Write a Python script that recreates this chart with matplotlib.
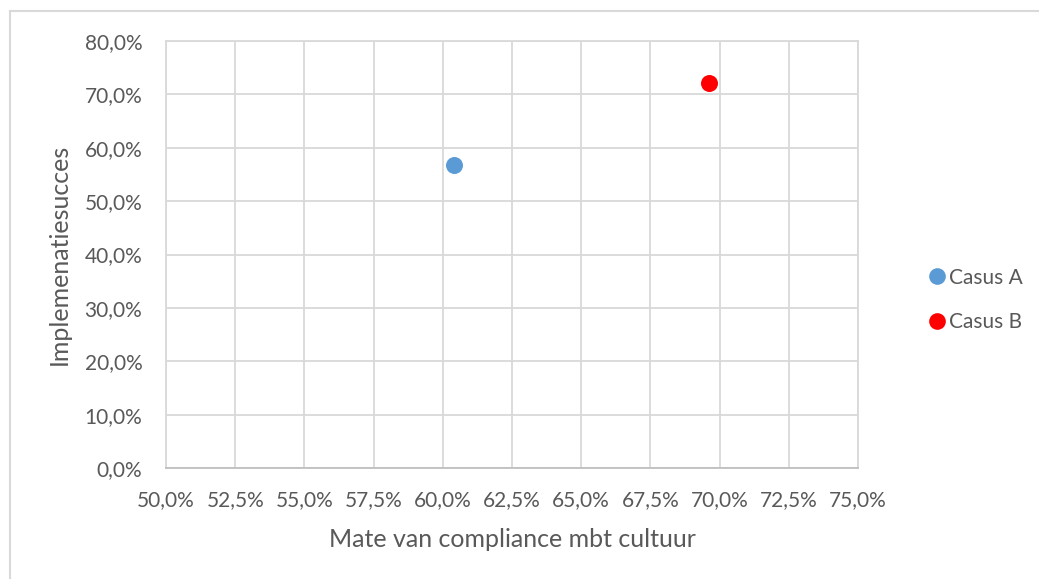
import matplotlib.pyplot as plt
from matplotlib.lines import Line2D
from matplotlib.ticker import FuncFormatter, MultipleLocator

# Data (fractions)
series_names = ["Casus A", "Casus B"]
compliance = [0.604, 0.696]
success = [0.568, 0.721]
colors = ["#5b9bd5", "#ff0000"]

plt.rcParams['font.family'] = ['Lato', 'DejaVu Sans']
text_color = "#595959"
grid_color = "#d9d9d9"

fig = plt.figure(figsize=(10.39, 5.79), dpi=100)
ax = fig.add_axes([166 / 1039, 1 - 468 / 579, (858 - 166) / 1039, (468 - 41) / 579])

for name, x, y, c in zip(series_names, compliance, success, colors):
    ax.scatter([x], [y], s=150, color=c, label=name, zorder=3, linewidths=0)

ax.set_xlim(0.5, 0.75)
ax.set_ylim(0.0, 0.8)
ax.xaxis.set_major_locator(MultipleLocator(0.025))
ax.yaxis.set_major_locator(MultipleLocator(0.1))

pct = FuncFormatter(lambda v, p: f"{v * 100:.1f}%".replace(".", ","))
ax.xaxis.set_major_formatter(pct)
ax.yaxis.set_major_formatter(pct)

ax.grid(True, color=grid_color, linewidth=1.3)
ax.set_axisbelow(True)
for side in ["left", "top", "right"]:
    ax.spines[side].set_color(grid_color)
    ax.spines[side].set_linewidth(1.3)
ax.spines["bottom"].set_color("#bfbfbf")
ax.spines["bottom"].set_linewidth(1.3)

ax.tick_params(axis="both", length=0, labelsize=15, labelcolor=text_color)
ax.tick_params(axis="y", pad=17)
ax.tick_params(axis="x", pad=16)

ax.set_xlabel("Mate van compliance mbt cultuur", fontsize=18, color=text_color, labelpad=13)
ax.set_ylabel("Implemenatiesucces", fontsize=18, color=text_color, labelpad=10)

handles = [Line2D([0], [0], marker="o", linestyle="", markersize=12,
                  markerfacecolor=c, markeredgewidth=0) for c in colors]
leg = fig.legend(handles, series_names, loc="center left",
                 bbox_to_anchor=(914 / 1039, 1 - 300 / 579), frameon=False,
                 fontsize=15, handletextpad=0.0, labelspacing=1.2,
                 handlelength=1.2, borderpad=0)
for t in leg.get_texts():
    t.set_color(text_color)

# outer chart border (left and top only visible in the crop)
fig.add_artist(Line2D([10 / 1039, 10 / 1039], [0, 1 - 11 / 579], color=grid_color,
                      linewidth=1.5, transform=fig.transFigure))
fig.add_artist(Line2D([10 / 1039, 1], [1 - 11 / 579, 1 - 11 / 579], color=grid_color,
                      linewidth=1.5, transform=fig.transFigure))

fig.savefig("out.png", dpi=100)
